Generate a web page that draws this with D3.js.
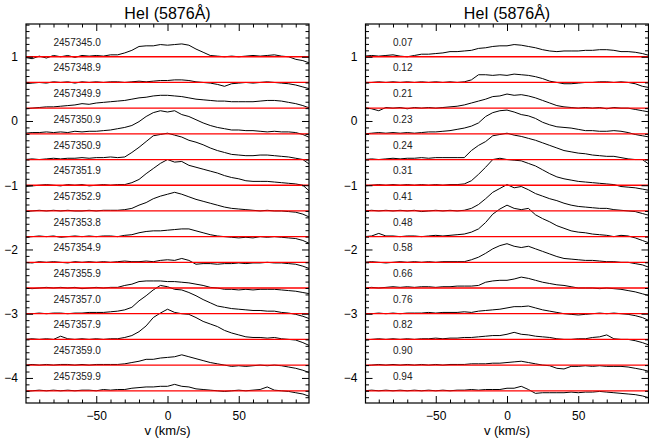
<!DOCTYPE html>
<html><head><meta charset="utf-8">
<script src="https://cdn.jsdelivr.net/npm/d3@7"></script>
<style>
body{margin:0;background:#fff}
text{font-family:"Liberation Sans",Arial,Helvetica,sans-serif}
</style>
</head><body>
<svg id="c" width="649" height="441"></svg>
<script>
// velocity grid (km/s)
const velocity = [-100,-95,-90,-85,-80,-75,-70,-65,-60,-55,-50,-45,-40,-35,-30,-25,-20,-15,-10,-5,0,5,10,15,20,25,30,35,40,45,50,55,60,65,70,75,80,85,90,95,100];
// vertical offsets of each spectrum (red baselines)
const offsets = [1.0,0.6,0.2,-0.2,-0.6,-1.0,-1.4,-1.8,-2.2,-2.6,-3.0,-3.4,-3.8,-4.2];
const leftLabels = ["2457345.0","2457348.9","2457349.9","2457350.9","2457350.9","2457351.9","2457352.9","2457353.8","2457354.9","2457355.9","2457357.0","2457357.9","2457359.0","2457359.9"];
const rightLabels = ["0.07","0.12","0.21","0.23","0.24","0.31","0.41","0.48","0.58","0.66","0.76","0.82","0.90","0.94"];
const title = "HeI (5876Å)";
const xLabel = "v (km/s)";
const xMajorTicks = [-50,0,50];
const xMinorTicks = [-90,-80,-70,-60,-40,-30,-20,-10,10,20,30,40,60,70,80,90];
const yMajorTicks = [1,0,-1,-2,-3,-4];

// spectra: flux above baseline, sampled on the velocity grid
const leftSpectra = [
 [-0.01,-0.03,0.01,-0.02,0.02,0.00,0.02,-0.01,0.02,0.01,0.02,0.01,0.03,0.03,0.06,0.10,0.16,0.17,0.17,0.19,0.18,0.19,0.20,0.18,0.12,0.07,0.02,0.01,0.00,0.01,0.00,0.01,0.02,0.01,0.02,0.03,0.01,0.00,-0.04,-0.06,-0.10],
 [-0.02,-0.01,0.00,-0.01,0.01,0.00,0.01,-0.01,0.01,0.00,0.01,0.00,0.01,0.01,0.00,0.01,0.02,0.01,0.02,0.03,0.03,0.04,0.04,0.03,0.01,0.00,-0.01,-0.03,-0.06,-0.02,-0.01,0.00,-0.01,0.00,0.01,0.00,-0.01,-0.02,-0.04,-0.07,-0.10],
 [-0.01,0.00,0.01,0.02,0.02,0.03,0.04,0.05,0.07,0.06,0.08,0.09,0.10,0.11,0.12,0.14,0.16,0.17,0.19,0.20,0.20,0.19,0.18,0.16,0.14,0.13,0.12,0.11,0.11,0.10,0.10,0.10,0.10,0.11,0.12,0.12,0.11,0.09,0.07,0.04,0.00],
 [0.01,0.02,0.02,0.03,0.02,0.03,0.02,0.04,0.03,0.04,0.04,0.05,0.06,0.08,0.10,0.13,0.19,0.27,0.33,0.36,0.34,0.36,0.30,0.27,0.22,0.17,0.13,0.10,0.08,0.06,0.06,0.05,0.05,0.04,0.03,0.04,0.03,0.03,0.02,-0.01,-0.06],
 [0.00,0.01,0.00,0.01,0.02,0.01,0.02,0.02,0.03,0.02,0.03,0.03,0.04,0.03,0.04,0.11,0.19,0.28,0.37,0.39,0.41,0.38,0.35,0.30,0.27,0.23,0.18,0.14,0.11,0.08,0.07,0.06,0.06,0.07,0.07,0.06,0.05,0.04,0.02,0.00,-0.08],
 [-0.02,-0.01,0.00,0.01,0.00,-0.01,0.01,0.00,0.01,-0.01,0.00,0.01,0.00,0.01,0.01,0.04,0.09,0.18,0.26,0.34,0.40,0.36,0.37,0.31,0.28,0.25,0.22,0.19,0.15,0.12,0.10,0.07,0.06,0.06,0.06,0.05,0.04,0.03,0.02,0.00,-0.10],
 [-0.01,0.00,0.01,0.00,0.01,0.00,0.01,0.00,0.00,0.01,0.00,0.01,0.01,0.01,0.02,0.04,0.09,0.13,0.19,0.23,0.26,0.29,0.26,0.22,0.18,0.15,0.12,0.09,0.06,0.04,0.03,0.02,0.01,0.00,0.01,0.00,0.00,-0.01,-0.02,-0.05,-0.10],
 [-0.01,0.00,0.01,0.00,0.01,-0.01,0.00,0.01,0.00,0.01,0.00,0.01,0.01,0.00,0.02,0.03,0.06,0.08,0.09,0.09,0.10,0.11,0.12,0.12,0.09,0.06,0.03,0.01,0.00,-0.01,-0.02,-0.01,-0.02,0.00,-0.01,0.00,-0.01,-0.02,-0.03,-0.06,-0.11],
 [0.00,-0.01,0.01,0.00,0.01,0.00,-0.01,0.01,0.00,0.01,0.00,0.01,0.00,0.01,0.02,0.01,0.01,0.02,0.01,0.03,0.04,0.03,0.06,0.03,-0.03,-0.02,-0.02,-0.03,-0.02,-0.02,-0.01,-0.02,-0.01,-0.01,0.00,-0.01,-0.01,-0.02,-0.03,-0.06,-0.10],
 [0.00,-0.01,0.00,0.01,0.00,0.01,0.00,0.01,-0.01,0.00,0.01,0.00,0.01,0.01,0.04,0.06,0.10,0.11,0.11,0.11,0.10,0.10,0.09,0.08,0.06,0.04,0.01,0.00,-0.02,-0.02,-0.03,-0.02,-0.03,-0.02,-0.02,-0.02,-0.03,-0.04,-0.05,-0.07,-0.09],
 [0.00,0.00,0.01,0.00,0.01,0.01,0.00,0.01,0.01,0.02,0.02,0.02,0.03,0.04,0.06,0.10,0.20,0.28,0.37,0.44,0.42,0.38,0.37,0.33,0.28,0.22,0.17,0.12,0.10,0.08,0.07,0.06,0.05,0.05,0.04,0.04,0.02,0.01,-0.01,-0.04,-0.08],
 [0.00,0.01,0.00,0.01,0.00,0.05,0.01,0.00,0.01,0.00,0.01,0.00,0.01,0.01,0.03,0.06,0.12,0.21,0.34,0.41,0.47,0.42,0.40,0.39,0.34,0.28,0.24,0.20,0.14,0.10,0.07,0.04,0.03,0.03,0.02,0.03,0.01,0.00,-0.01,-0.05,-0.10],
 [0.00,0.01,0.00,0.01,0.00,0.01,0.01,0.00,0.01,0.00,0.01,0.01,0.01,0.01,0.02,0.04,0.06,0.09,0.09,0.11,0.12,0.13,0.16,0.13,0.10,0.07,0.04,0.02,0.00,-0.02,-0.01,-0.02,-0.01,0.00,-0.01,0.00,-0.01,-0.03,-0.05,-0.08,-0.12],
 [-0.01,0.00,0.01,0.00,0.01,0.00,0.01,0.00,0.01,0.01,0.00,0.02,0.01,0.02,0.02,0.04,0.05,0.06,0.06,0.07,0.07,0.10,0.07,0.06,0.03,0.02,0.01,0.00,-0.01,0.00,0.01,0.00,0.01,0.02,0.06,0.01,0.00,-0.01,-0.03,-0.05,-0.09]
];
const rightSpectra = [
 [0.01,0.02,0.01,0.02,0.03,0.01,0.00,0.02,0.04,0.04,0.05,0.06,0.08,0.08,0.09,0.10,0.13,0.14,0.16,0.17,0.17,0.19,0.18,0.16,0.14,0.11,0.09,0.08,0.09,0.09,0.09,0.10,0.10,0.11,0.11,0.10,0.08,0.08,0.07,0.05,0.02],
 [-0.01,0.00,0.01,0.00,0.01,0.00,0.01,0.00,0.01,0.00,0.01,0.00,0.01,0.00,0.01,0.04,0.12,0.12,0.11,0.12,0.11,0.13,0.12,0.11,0.09,0.06,0.02,0.00,-0.02,-0.02,-0.01,0.00,0.00,0.01,0.01,0.00,0.01,0.00,-0.02,-0.06,-0.08],
 [0.01,-0.01,-0.04,0.01,0.00,0.01,-0.01,0.01,0.00,0.01,0.00,0.01,0.02,0.03,0.05,0.08,0.11,0.14,0.18,0.19,0.22,0.20,0.21,0.19,0.16,0.12,0.08,0.04,0.02,0.01,0.00,0.01,0.00,0.01,-0.01,0.01,0.00,0.00,-0.02,-0.04,-0.06],
 [0.00,0.01,0.02,0.01,0.02,0.01,0.02,0.01,0.02,0.03,0.03,0.04,0.05,0.07,0.09,0.12,0.17,0.27,0.33,0.36,0.37,0.34,0.30,0.28,0.24,0.18,0.14,0.11,0.10,0.09,0.07,0.05,0.05,0.04,0.04,0.05,0.04,0.02,-0.01,-0.03,-0.05],
 [0.00,0.01,0.00,0.01,0.02,0.01,0.02,0.02,0.03,0.02,0.03,0.03,0.03,0.03,0.03,0.14,0.22,0.28,0.37,0.39,0.41,0.38,0.36,0.33,0.30,0.26,0.22,0.18,0.14,0.12,0.10,0.09,0.07,0.06,0.05,0.05,0.03,0.01,0.00,0.00,-0.08],
 [-0.01,0.00,0.01,0.00,0.01,0.00,0.01,0.00,0.01,0.00,0.01,0.00,0.01,0.01,0.02,0.07,0.17,0.28,0.40,0.42,0.40,0.39,0.38,0.34,0.30,0.24,0.18,0.13,0.10,0.08,0.06,0.05,0.04,0.03,0.02,0.01,-0.02,-0.03,-0.04,-0.06,-0.08],
 [0.00,0.01,0.00,0.01,0.00,0.01,0.00,0.01,-0.01,0.00,0.01,0.00,0.01,0.00,0.01,0.04,0.10,0.19,0.29,0.35,0.41,0.36,0.38,0.33,0.27,0.23,0.19,0.16,0.12,0.09,0.07,0.06,0.05,0.04,0.04,0.02,0.01,0.00,-0.01,-0.04,-0.07],
 [0.00,0.01,0.05,0.01,0.01,0.00,0.01,0.01,0.00,0.01,0.02,0.01,0.02,0.03,0.04,0.07,0.12,0.22,0.35,0.43,0.49,0.44,0.42,0.44,0.34,0.28,0.23,0.17,0.13,0.09,0.07,0.06,0.04,0.03,0.02,0.00,0.02,0.01,-0.02,-0.06,-0.10],
 [0.00,0.01,0.00,-0.01,0.00,0.01,0.00,0.01,0.00,0.01,0.00,0.01,0.01,0.01,0.01,0.04,0.08,0.14,0.21,0.26,0.29,0.25,0.23,0.25,0.21,0.17,0.13,0.09,0.06,0.05,0.04,0.03,0.03,0.02,0.01,0.01,0.00,0.00,-0.02,-0.04,-0.08],
 [0.00,0.01,0.00,0.01,0.02,0.01,0.02,0.01,0.02,0.02,0.01,0.02,0.02,0.03,0.03,0.03,0.04,0.09,0.11,0.12,0.12,0.14,0.17,0.15,0.12,0.09,0.07,0.05,0.04,0.02,0.00,0.00,0.00,-0.01,0.00,-0.01,-0.02,-0.04,-0.06,-0.09,-0.12],
 [0.00,0.00,0.01,0.00,0.01,0.00,0.01,0.01,0.01,0.02,0.01,0.02,0.02,0.02,0.03,0.02,0.04,0.05,0.06,0.07,0.09,0.11,0.11,0.12,0.09,0.06,0.04,0.02,0.00,-0.01,-0.02,-0.01,0.00,0.01,0.00,0.01,0.00,-0.01,-0.03,-0.06,-0.11],
 [-0.01,0.00,0.01,0.00,0.01,0.00,0.01,0.00,0.01,0.01,0.02,0.01,0.02,0.02,0.03,0.03,0.04,0.05,0.06,0.06,0.08,0.11,0.08,0.07,0.05,0.04,0.03,0.01,0.00,0.00,0.01,0.01,0.03,0.04,0.07,0.01,0.00,0.00,-0.02,-0.05,-0.09],
 [-0.01,0.00,0.01,0.00,0.01,0.00,0.01,0.00,0.01,0.00,0.01,0.00,0.01,0.01,0.01,0.02,0.02,0.02,0.03,0.03,0.04,0.05,0.06,0.04,0.02,0.00,-0.01,-0.05,-0.06,-0.02,-0.02,-0.01,-0.02,-0.01,-0.02,-0.02,-0.02,-0.03,-0.05,-0.07,-0.10],
 [0.00,0.01,0.00,0.01,0.00,0.01,0.00,0.01,0.00,0.01,0.00,0.01,0.00,0.01,0.01,0.02,0.01,0.02,0.02,0.02,0.04,0.04,0.07,0.02,-0.04,-0.03,-0.03,-0.03,-0.03,-0.02,-0.03,-0.02,-0.02,-0.01,-0.02,-0.03,-0.04,-0.05,-0.06,-0.08,-0.11]
];

const svg = d3.select("#c");
const fmt = d => d < 0 ? "\u2212" + Math.abs(d) : String(d);
const panels = [
  {id:"L", x0:26, x1:309, labels:leftLabels, spectra:leftSpectra},
  {id:"R", x0:365.5, x1:648.5, labels:rightLabels, spectra:rightSpectra}
];
const plotTop = 24, plotBottom = 403;

panels.forEach(p => {
  const x = d3.scaleLinear().domain([-99.3, 99.3]).range([p.x0, p.x1]);
  const y = d3.scaleLinear().domain([-4.39, 1.51]).range([plotBottom, plotTop]);
  const g = svg.append("g");

  g.append("clipPath").attr("id", "clip" + p.id)
    .append("rect").attr("x", p.x0).attr("y", plotTop).attr("width", p.x1 - p.x0).attr("height", plotBottom - plotTop);

  const plot = g.append("g").attr("clip-path", `url(#clip${p.id})`);

  p.spectra.forEach((s, i) => {
    const line = d3.line()
      .x((d, j) => x(velocity[j]))
      .y(d => y(offsets[i] + d));
    plot.append("path").datum(s).attr("d", line)
      .attr("fill", "none").attr("stroke", "#000").attr("stroke-width", 1);
  });
  offsets.forEach(o => {
    plot.append("line").attr("x1", p.x0).attr("x2", p.x1)
      .attr("y1", y(o)).attr("y2", y(o))
      .attr("stroke", "#ff0000").attr("stroke-width", 1.3);
  });
  p.labels.forEach((lab, i) => {
    g.append("text").attr("x", x(-80)).attr("y", y(offsets[i]) - 11)
      .attr("font-size", 10).attr("fill", "#222").text(lab);
  });

  const styleAxis = a => { a.select(".domain").remove(); a.selectAll("line").attr("stroke", "#000"); };
  const styleText = a => a.selectAll("text").attr("font-size", 12).attr("fill", "#000").style("font-family", "Liberation Sans, Arial, sans-serif");
  g.append("g").attr("transform", `translate(0,${plotBottom})`)
    .call(d3.axisBottom(x).tickValues(xMajorTicks).tickSize(-7).tickPadding(8).tickFormat(fmt))
    .call(styleAxis).call(styleText);
  g.append("g").attr("transform", `translate(0,${plotBottom})`)
    .call(d3.axisBottom(x).tickValues(xMinorTicks).tickSize(-3.5).tickFormat(""))
    .call(styleAxis);
  g.append("g").attr("transform", `translate(0,${plotTop})`)
    .call(d3.axisTop(x).tickValues(xMajorTicks).tickSize(-7).tickFormat(""))
    .call(styleAxis);
  g.append("g").attr("transform", `translate(0,${plotTop})`)
    .call(d3.axisTop(x).tickValues(xMinorTicks).tickSize(-3.5).tickFormat(""))
    .call(styleAxis);

  const yMinor = d3.range(-43, 16).map(k => k / 10).filter(v => Math.abs(v - Math.round(v)) > 1e-6);
  g.append("g").attr("transform", `translate(${p.x0},0)`)
    .call(d3.axisLeft(y).tickValues(yMajorTicks).tickSize(-7).tickPadding(8).tickFormat(fmt))
    .call(styleAxis).call(styleText);
  g.append("g").attr("transform", `translate(${p.x0},0)`)
    .call(d3.axisLeft(y).tickValues(yMinor).tickSize(-3.5).tickFormat(""))
    .call(styleAxis);
  g.append("g").attr("transform", `translate(${p.x1},0)`)
    .call(d3.axisRight(y).tickValues(yMajorTicks).tickSize(-7).tickFormat(""))
    .call(styleAxis);
  g.append("g").attr("transform", `translate(${p.x1},0)`)
    .call(d3.axisRight(y).tickValues(yMinor).tickSize(-3.5).tickFormat(""))
    .call(styleAxis);

  g.append("rect").attr("x", p.x0).attr("y", plotTop).attr("width", p.x1 - p.x0).attr("height", plotBottom - plotTop)
    .attr("fill", "none").attr("stroke", "#000").attr("stroke-width", 1.2);

  g.append("text").attr("x", x(0)).attr("y", 18.5).attr("text-anchor", "middle")
    .attr("font-size", 16).attr("fill", "#000").text(title);
  g.append("text").attr("x", x(0)).attr("y", 435).attr("text-anchor", "middle")
    .attr("font-size", 13).attr("fill", "#000").text(xLabel);
});
</script>
</body></html>
